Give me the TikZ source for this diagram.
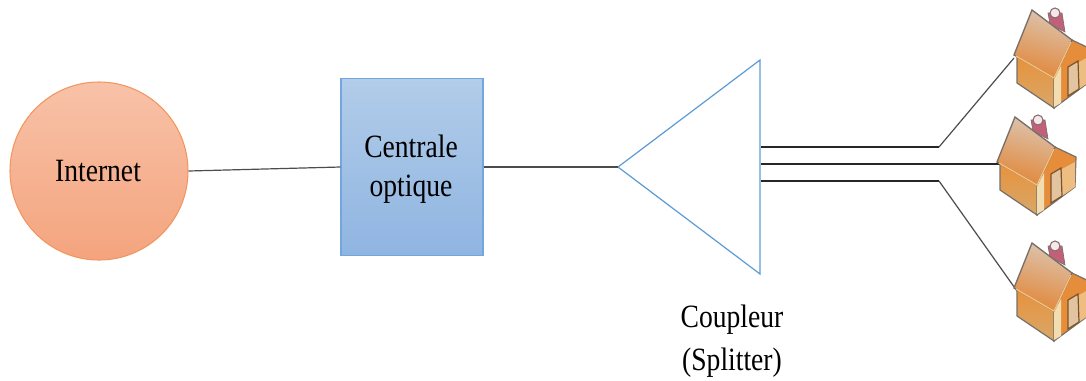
\documentclass[tikz,border=0pt]{standalone}
\usepackage{fontspec}
\setmainfont{Liberation Serif}
\definecolor{cTop}{HTML}{F8C2A8}
\definecolor{cBot}{HTML}{F4A47E}
\definecolor{cEdge}{HTML}{F2965F}
\definecolor{bTop}{HTML}{B2CCE9}
\definecolor{bBot}{HTML}{8FB5E1}
\definecolor{bEdge}{HTML}{72A6DC}
\definecolor{triEdge}{HTML}{5B9BD5}
\definecolor{roofTop}{HTML}{DCC4AE}
\definecolor{roofBot}{HTML}{E2873A}
\definecolor{wallTop}{HTML}{E8913B}
\definecolor{wallBot}{HTML}{D8A869}
\definecolor{wallR}{HTML}{E58D3A}
\definecolor{pale}{HTML}{F2DDB2}
\definecolor{doorC}{HTML}{E3C4A0}
\definecolor{hEdge}{HTML}{77706A}
\definecolor{chim}{HTML}{C2607A}
\begin{document}
\begin{tikzpicture}[x=0.75pt,y=-0.75pt,
  wire/.style={draw=black!70,line width=0.9pt},
  fibre/.style={draw=black!85,line width=1pt},
  blueedge/.style={draw=triEdge,line width=0.9pt},
  lab/.style={font=\fontsize{23}{27}\selectfont,align=center,inner sep=0pt,xscale=0.9,yscale=1.06},
  house/.pic={
    \fill[chim,draw=hEdge,line width=0.5pt] (16,3) -- (30,3) -- (33,22) -- (18,14) -- cycle;
    \fill[white!85!chim,draw=hEdge!80!chim,line width=0.8pt] (23,3) circle (5);
    \path[fill=wallR,draw=hEdge,line width=0.9pt]
      (22,98) -- (22,68) -- (40,30) -- (61,40) -- (60,70) -- cycle;
    \fill[pale!60!wallR] (47,52) -- (60,45) -- (60,70) -- (47,79) -- cycle;
    \path[fill=doorC,draw=brown!65!black,line width=0.9pt] (36,86) -- (36,57) -- (46,51) -- (47,79) -- cycle;
    \path[top color=wallTop,bottom color=wallBot,draw=hEdge,line width=0.9pt]
      (-15,45) -- (-15,73) -- (22,98) -- (22,68) -- cycle;
    \fill[pale] (22,68) -- (22,97) -- (29,93) -- (29,56) -- cycle;
    \path[top color=roofTop,bottom color=roofBot,shading angle=-15,draw=hEdge,line width=1pt]
      (0,0) -- (40,30) -- (22,68) -- (-18,45) -- cycle;
    \draw[pale!70!orange,line width=1pt] (-16,46) -- (22,68) -- (39,32);
  }]
\useasboundingbox (0,0) rectangle (1086,380);
\node[circle,minimum size=178*0.75pt,inner sep=0pt,top color=cTop,bottom color=cBot,draw=cEdge,line width=0.8pt] (inet) at (99,171) {};
\node[lab] (inettxt) at (98,171) {Internet};
\node[minimum width=142*0.75pt,minimum height=177*0.75pt,inner sep=0pt,top color=bTop,bottom color=bBot,draw=bEdge,line width=0.8pt] (co) at (412,167) {};
\node[lab] (cotxt) at (411,169) {Centrale\\[1pt]optique};
\coordinate (tipL) at (618,167);
\coordinate (tipT) at (760,60);
\coordinate (tipB) at (760,274);
\draw[blueedge,line join=miter] (tipL) -- (tipT) -- (tipB) -- cycle;
\draw[wire] (inet.east) -- (co.west);
\draw[wire] (co.east) -- (tipL);
\coordinate (a1) at (761,147);
\coordinate (a2) at (761,164);
\coordinate (a3) at (761,181);
\coordinate (b1) at (939,147);
\coordinate (b3) at (939,181);
\coordinate (h1) at (1014,58);
\coordinate (h2) at (1000,164);
\coordinate (h3) at (1017,291);
\draw[fibre] (a1) -- (b1);
\draw[fibre] (a2) -- (h2);
\draw[fibre] (a3) -- (b3);
\draw[wire] (b1) -- (h1);
\draw[wire] (b3) -- (h3);
\pic at (1032,10) {house};
\pic at (1015,117) {house};
\pic at (1032,243) {house};
\node[lab] (coup) at (732,341) {Coupleur\\[3pt](Splitter)};
\end{tikzpicture}
\end{document}
